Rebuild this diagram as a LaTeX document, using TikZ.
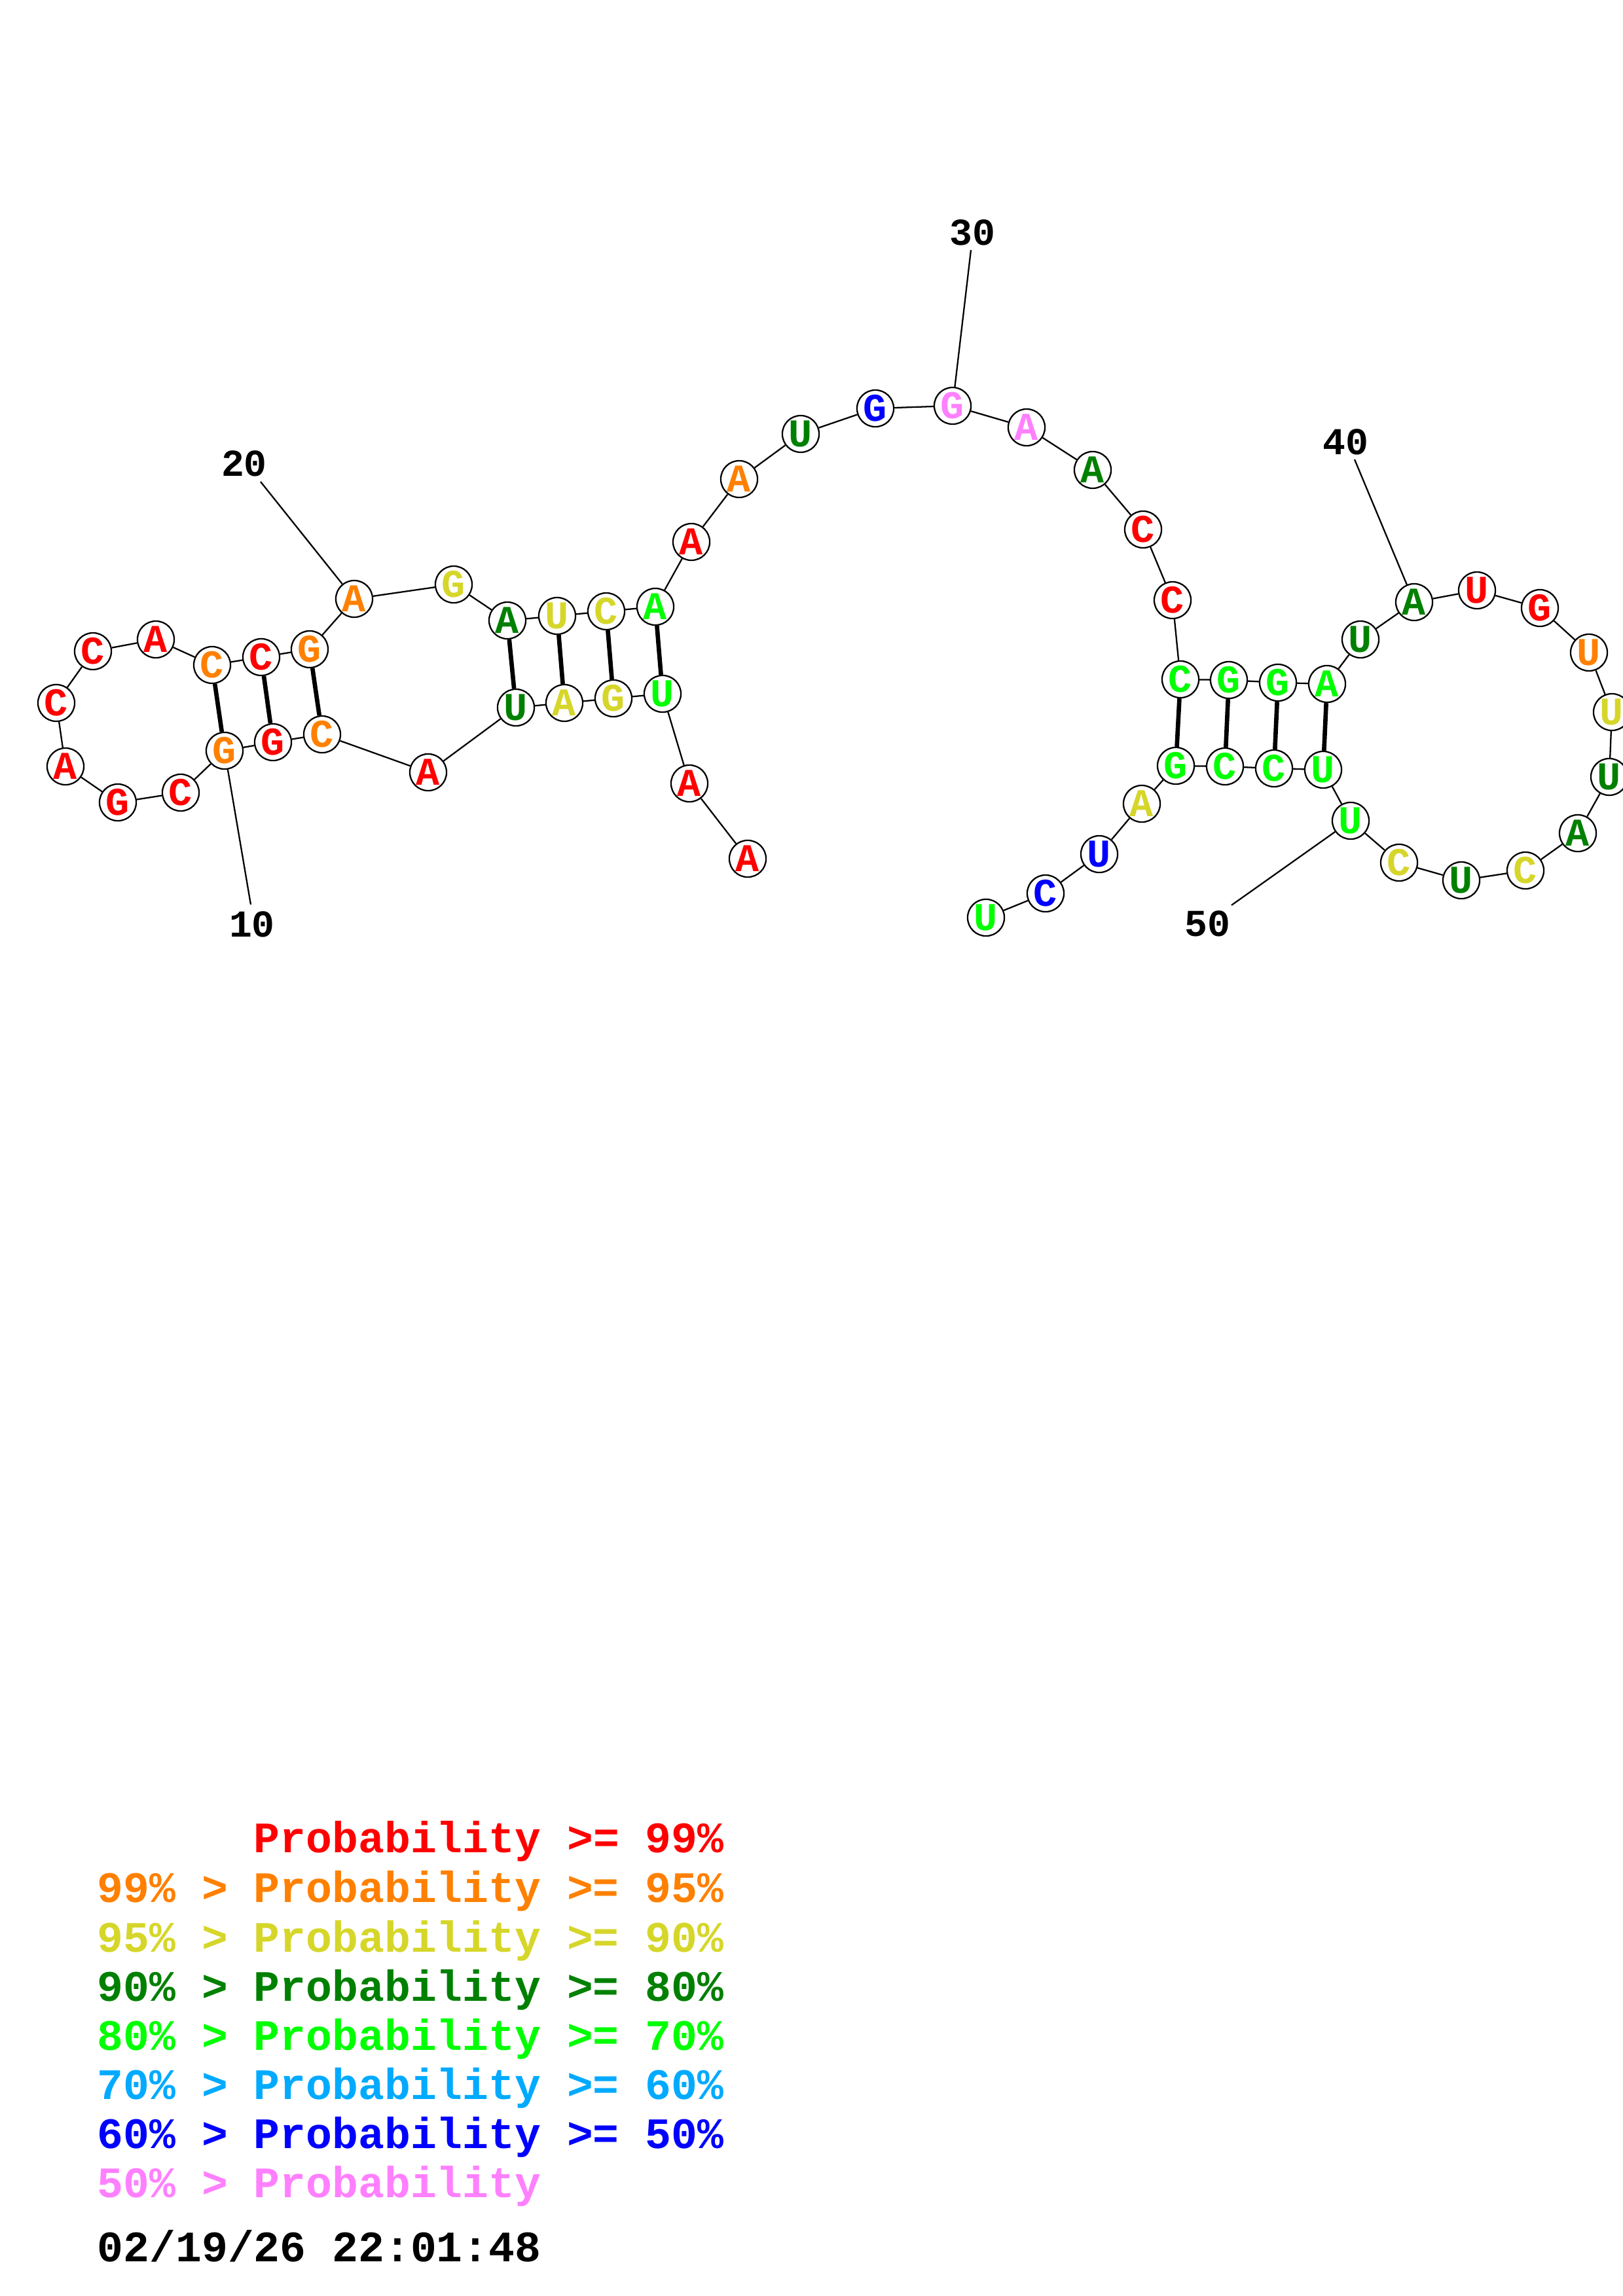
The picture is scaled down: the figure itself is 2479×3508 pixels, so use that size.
\documentclass[tikz,border=0pt]{standalone}
\usepackage{fontspec}
\setmonofont{Liberation Mono}
\usepackage{tikz}
\usetikzlibrary{positioning}

\definecolor{pRed}{RGB}{255,0,0}
\definecolor{pOrange}{RGB}{255,128,0}
\definecolor{pYellow}{RGB}{214,214,42}
\definecolor{pDkGreen}{RGB}{0,128,0}
\definecolor{pGreen}{RGB}{0,255,0}
\definecolor{pSky}{RGB}{0,170,255}
\definecolor{pBlue}{RGB}{0,0,255}
\definecolor{pPink}{RGB}{255,128,255}

\begin{document}
\begin{tikzpicture}[x=0.08467mm, y=-0.08467mm,
  nt/.style={draw=black, line width=0.55pt, circle, fill=white, inner sep=0pt,
    minimum size=4.75mm, font=\ttfamily\bfseries\fontsize{14.5}{14.5}\selectfont},
  bb/.style={line width=0.55pt, draw=black},
  pr/.style={line width=1.6pt, draw=black},
  lbl/.style={inner sep=0pt, font=\ttfamily\bfseries\fontsize{14}{14}\selectfont},
  key/.style={anchor=base west, inner sep=0pt,
    font=\ttfamily\bfseries\fontsize{16}{16}\selectfont}
]
  \useasboundingbox (0,0) rectangle (2479,3508);
  \node[nt, text=pRed] (n1) at (1142,1312) {A};
  \node[nt, text=pRed] (n2) at (1053,1197) {A};
  \node[nt, text=pGreen] (n3) at (1012,1060) {U};
  \node[nt, text=pYellow] (n4) at (937,1067) {G};
  \node[nt, text=pYellow] (n5) at (862,1074) {A};
  \node[nt, text=pDkGreen] (n6) at (788,1081) {U};
  \node[nt, text=pRed] (n7) at (654,1180) {A};
  \node[nt, text=pOrange] (n8) at (492,1122) {C};
  \node[nt, text=pRed] (n9) at (417,1134) {G};
  \node[nt, text=pOrange] (n10) at (343,1147) {G};
  \node[nt, text=pRed] (n11) at (276,1211) {C};
  \node[nt, text=pRed] (n12) at (180,1226) {G};
  \node[nt, text=pRed] (n13) at (100,1171) {A};
  \node[nt, text=pRed] (n14) at (86,1074) {C};
  \node[nt, text=pRed] (n15) at (142,995) {C};
  \node[nt, text=pRed] (n16) at (238,977) {A};
  \node[nt, text=pOrange] (n17) at (324,1016) {C};
  \node[nt, text=pRed] (n18) at (399,1004) {C};
  \node[nt, text=pOrange] (n19) at (473,992) {G};
  \node[nt, text=pOrange] (n20) at (541,915) {A};
  \node[nt, text=pYellow] (n21) at (693,893) {G};
  \node[nt, text=pDkGreen] (n22) at (775,948) {A};
  \node[nt, text=pYellow] (n23) at (851,941) {U};
  \node[nt, text=pYellow] (n24) at (926,934) {C};
  \node[nt, text=pGreen] (n25) at (1001,927) {A};
  \node[nt, text=pRed] (n26) at (1056,828) {A};
  \node[nt, text=pOrange] (n27) at (1129,732) {A};
  \node[nt, text=pDkGreen] (n28) at (1223,663) {U};
  \node[nt, text=pBlue] (n29) at (1337,624) {G};
  \node[nt, text=pPink] (n30) at (1455,620) {G};
  \node[nt, text=pPink] (n31) at (1568,653) {A};
  \node[nt, text=pDkGreen] (n32) at (1669,718) {A};
  \node[nt, text=pRed] (n33) at (1746,809) {C};
  \node[nt, text=pRed] (n34) at (1791,917) {C};
  \node[nt, text=pGreen] (n35) at (1803,1038) {C};
  \node[nt, text=pGreen] (n36) at (1877,1039) {G};
  \node[nt, text=pGreen] (n37) at (1952,1043) {G};
  \node[nt, text=pGreen] (n38) at (2027,1045) {A};
  \node[nt, text=pDkGreen] (n39) at (2078,977) {U};
  \node[nt, text=pDkGreen] (n40) at (2160,920) {A};
  \node[nt, text=pRed] (n41) at (2256,902) {U};
  \node[nt, text=pRed] (n42) at (2352,929) {G};
  \node[nt, text=pOrange] (n43) at (2427,997) {U};
  \node[nt, text=pYellow] (n44) at (2462,1088) {U};
  \node[nt, text=pDkGreen] (n45) at (2458,1187) {U};
  \node[nt, text=pDkGreen] (n46) at (2410,1273) {A};
  \node[nt, text=pYellow] (n47) at (2330,1330) {C};
  \node[nt, text=pDkGreen] (n48) at (2232,1345) {U};
  \node[nt, text=pYellow] (n49) at (2137,1318) {C};
  \node[nt, text=pGreen] (n50) at (2063,1254) {U};
  \node[nt, text=pGreen] (n51) at (2021,1176) {U};
  \node[nt, text=pGreen] (n52) at (1946,1174) {C};
  \node[nt, text=pGreen] (n53) at (1871,1171) {C};
  \node[nt, text=pGreen] (n54) at (1796,1170) {G};
  \node[nt, text=pYellow] (n55) at (1744,1228) {A};
  \node[nt, text=pBlue] (n56) at (1679,1305) {U};
  \node[nt, text=pBlue] (n57) at (1597,1365) {C};
  \node[nt, text=pGreen] (n58) at (1506,1402) {U};

  \foreach \i [count=\j from 2] in {1,...,57}
    \draw[bb] (n\i) -- (n\j);

  \draw[pr] (n10) -- (n17);
  \draw[pr] (n9) -- (n18);
  \draw[pr] (n8) -- (n19);
  \draw[pr] (n6) -- (n22);
  \draw[pr] (n5) -- (n23);
  \draw[pr] (n4) -- (n24);
  \draw[pr] (n3) -- (n25);
  \draw[pr] (n35) -- (n54);
  \draw[pr] (n36) -- (n53);
  \draw[pr] (n37) -- (n52);
  \draw[pr] (n38) -- (n51);

  \coordinate (t10) at (383,1382);
  \coordinate (t20) at (398,736);
  \coordinate (t30) at (1483,382);
  \coordinate (t40) at (2069,702);
  \coordinate (t50) at (1881,1383);
  \draw[bb] (n10) -- (t10);
  \draw[bb] (n20) -- (t20);
  \draw[bb] (n30) -- (t30);
  \draw[bb] (n40) -- (t40);
  \draw[bb] (n50) -- (t50);
  \node[lbl] (l10) at (385,1412) {10};
  \node[lbl] (l20) at (373,708) {20};
  \node[lbl] (l30) at (1485,355) {30};
  \node[lbl] (l40) at (2055,675) {40};
  \node[lbl] (l50) at (1844,1411) {50};

  \node[key, text=pRed] (k1) at (148,2830) {\hphantom{99\% > }Probability >= 99\%};
  \node[key, text=pOrange] (k2) at (148,2906) {99\% > Probability >= 95\%};
  \node[key, text=pYellow] (k3) at (148,2982) {95\% > Probability >= 90\%};
  \node[key, text=pDkGreen] (k4) at (148,3057) {90\% > Probability >= 80\%};
  \node[key, text=pGreen] (k5) at (148,3132) {80\% > Probability >= 70\%};
  \node[key, text=pSky] (k6) at (148,3207) {70\% > Probability >= 60\%};
  \node[key, text=pBlue] (k7) at (148,3282) {60\% > Probability >= 50\%};
  \node[key, text=pPink] (k8) at (148,3357) {50\% > Probability};
  \node[key, text=black] (date) at (148,3455) {02/19/26 22:01:48};
\end{tikzpicture}
\end{document}
